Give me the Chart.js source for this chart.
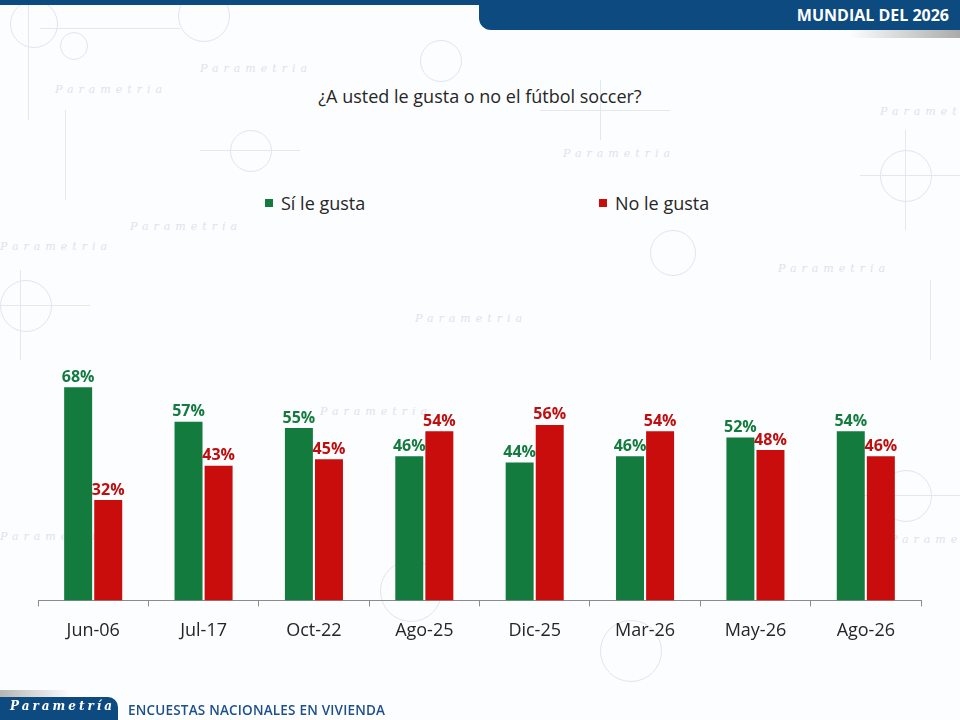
<!DOCTYPE html>
<html>
<head>
<meta charset="utf-8">
<script src="https://cdn.jsdelivr.net/npm/chart.js@4.4.1/dist/chart.umd.min.js"></script>
<style>
  html, body { margin: 0; padding: 0; }
  body { width: 960px; height: 720px; position: relative; overflow: hidden; background: #fcfdfe; font-family: "Open Sans", sans-serif; }
  .wm { position: absolute; color: #dde3ec; font-family: "DejaVu Serif", serif; font-style: italic; font-size: 11px; letter-spacing: 5px; }
  .ring { position: absolute; border: 1px solid #e0e6ee; border-radius: 50%; }
  .hl { position: absolute; height: 1px; background: #e3e8ef; }
  .vl { position: absolute; width: 1px; background: #e3e8ef; }
  .topbar { position: absolute; left: 0; top: 0; width: 960px; height: 5px; background: #0d4a80; }
  .tab { position: absolute; left: 479px; top: 0; width: 481px; height: 30px; background: #0d4a80; border-bottom-left-radius: 12px; }
  .tab span { position: absolute; right: 11px; top: 4px; color: #fff; font-weight: 700; font-size: 16px; }
  .shadow { position: absolute; right: 0; top: 30px; width: 110px; height: 8px; background: linear-gradient(90deg, rgba(160,160,160,0), rgba(150,150,150,0.8)); }
  .foot { position: absolute; left: 0; top: 697px; width: 118px; height: 23px; background: #0d4a80; border-top-right-radius: 10px; }
  .foot span { position: absolute; left: 10px; top: 2px; color: #fff; font-family: "DejaVu Serif", serif; font-style: italic; font-weight: 700; font-size: 12px; letter-spacing: 3px; }
  .footshadow { position: absolute; left: 0; top: 690px; width: 70px; height: 7px; background: linear-gradient(90deg, rgba(150,150,150,0.7), rgba(160,160,160,0)); }
  .foottext { position: absolute; left: 128px; top: 701px; color: #1d4f8e; font-weight: 600; font-size: 13.5px; letter-spacing: 0.2px; }
  .title { position: absolute; left: 0; width: 960px; top: 84px; text-align: center; color: #262626; font-size: 18px; }
  .legend { position: absolute; top: 191px; font-size: 18px; color: #262626; }
  .legend i { display: inline-block; width: 8px; height: 8px; margin-right: 8px; vertical-align: 3px; }
  #wrap { position: absolute; left: 0; top: 0; width: 960px; height: 720px; }
</style>
</head>
<body>
<div class="ring" style="left:10px;top:0px;width:46px;height:46px"></div>
<div class="ring" style="left:60px;top:32px;width:26px;height:26px"></div>
<div class="ring" style="left:178px;top:-10px;width:50px;height:50px"></div>
<div class="ring" style="left:880px;top:150px;width:50px;height:50px"></div>
<div class="ring" style="left:0px;top:280px;width:50px;height:50px"></div>
<div class="ring" style="left:880px;top:470px;width:50px;height:50px"></div>
<div class="ring" style="left:600px;top:620px;width:60px;height:60px"></div>
<div class="ring" style="left:230px;top:130px;width:40px;height:40px"></div>
<div class="ring" style="left:380px;top:560px;width:60px;height:60px"></div>
<div class="ring" style="left:420px;top:40px;width:40px;height:40px"></div>
<div class="ring" style="left:650px;top:230px;width:44px;height:44px"></div>
<div class="hl" style="left:40px;top:28px;width:140px"></div>
<div class="hl" style="left:540px;top:110px;width:130px"></div>
<div class="hl" style="left:860px;top:175px;width:100px"></div>
<div class="hl" style="left:0px;top:305px;width:90px"></div>
<div class="hl" style="left:860px;top:495px;width:100px"></div>
<div class="hl" style="left:200px;top:150px;width:100px"></div>
<div class="vl" style="left:28px;top:0px;height:120px"></div>
<div class="vl" style="left:65px;top:110px;height:90px"></div>
<div class="vl" style="left:905px;top:130px;height:100px"></div>
<div class="vl" style="left:930px;top:280px;height:80px"></div>
<div class="vl" style="left:20px;top:270px;height:90px"></div>
<div class="vl" style="left:600px;top:80px;height:60px"></div>
<div class="wm" style="left:200px;top:62px">Parametria</div>
<div class="wm" style="left:55px;top:83px">Parametria</div>
<div class="wm" style="left:563px;top:147px">Parametria</div>
<div class="wm" style="left:880px;top:105px">Parametria</div>
<div class="wm" style="left:0px;top:240px">Parametria</div>
<div class="wm" style="left:778px;top:262px">Parametria</div>
<div class="wm" style="left:415px;top:312px">Parametria</div>
<div class="wm" style="left:0px;top:530px">Parametria</div>
<div class="wm" style="left:890px;top:533px">Parametria</div>
<div class="wm" style="left:130px;top:220px">Parametria</div>
<div class="wm" style="left:320px;top:405px">Parametria</div>

<div class="topbar"></div>
<div class="tab"><span>MUNDIAL DEL 2026</span></div>
<div class="shadow"></div>
<div class="title">¿A usted le gusta o no el fútbol soccer?</div>
<div id="legend"></div>
<div id="wrap"><canvas id="chart" width="960" height="720"></canvas></div>
<div class="footshadow"></div>
<div class="foot"><span>Parametría</span></div>
<div class="foottext">ENCUESTAS NACIONALES EN VIVIENDA</div>

<script>
const categories = ["Jun-06", "Jul-17", "Oct-22", "Ago-25", "Dic-25", "Mar-26", "May-26", "Ago-26"];
const siLeGusta = [68, 57, 55, 46, 44, 46, 52, 54];
const noLeGusta = [32, 43, 45, 54, 56, 54, 48, 46];
const seriesNames = ["Sí le gusta", "No le gusta"];
const seriesColors = ["#137b3e", "#c90c0c"];
const labelColors = ["#137b3e", "#c00d0d"];
const legendX = [265, 599];

// value labels on top of each bar
const barLabels = {
    id: 'barLabels',
    afterDatasetsDraw(chart) {
        const ctx = chart.ctx;
        ctx.save();
        ctx.font = "bold 16px 'Open Sans', sans-serif";
        ctx.textAlign = "center";
        ctx.textBaseline = "bottom";
        chart.data.datasets.forEach((ds, i) => {
            const meta = chart.getDatasetMeta(i);
            ctx.fillStyle = labelColors[i];
            meta.data.forEach((bar, j) => {
                ctx.fillText(ds.data[j] + "%", bar.x, bar.y - 2);
            });
        });
        ctx.restore();
    }
};

const chart = new Chart(document.getElementById('chart').getContext('2d'), {
    type: 'bar',
    data: {
        labels: categories,
        datasets: [
            { label: seriesNames[0], data: siLeGusta, backgroundColor: seriesColors[0] },
            { label: seriesNames[1], data: noLeGusta, backgroundColor: seriesColors[1] }
        ]
    },
    options: {
        responsive: false,
        animation: false,
        layout: { padding: { left: 38, right: 39, top: 287, bottom: 64 } },
        categoryPercentage: 0.545,
        barPercentage: 0.93,
        scales: {
            y: { display: false, min: 0, max: 100 },
            x: {
                border: { display: true, color: '#8c8c8c', width: 1 },
                grid: { offset: true, drawOnChartArea: false, drawTicks: true, tickLength: 6, color: '#8c8c8c' },
                ticks: { color: '#262626', font: { family: "'Open Sans', sans-serif", size: 18 }, padding: 14 }
            }
        },
        plugins: { legend: { display: false }, tooltip: { enabled: false } }
    },
    plugins: [barLabels]
});

// legend built from the chart datasets
const legendEl = document.getElementById('legend');
chart.data.datasets.forEach((ds, i) => {
    const d = document.createElement('div');
    d.className = 'legend';
    d.style.left = legendX[i] + 'px';
    d.innerHTML = '<i style="background:' + ds.backgroundColor + '"></i>' + ds.label;
    legendEl.appendChild(d);
});
</script>
</body>
</html>
